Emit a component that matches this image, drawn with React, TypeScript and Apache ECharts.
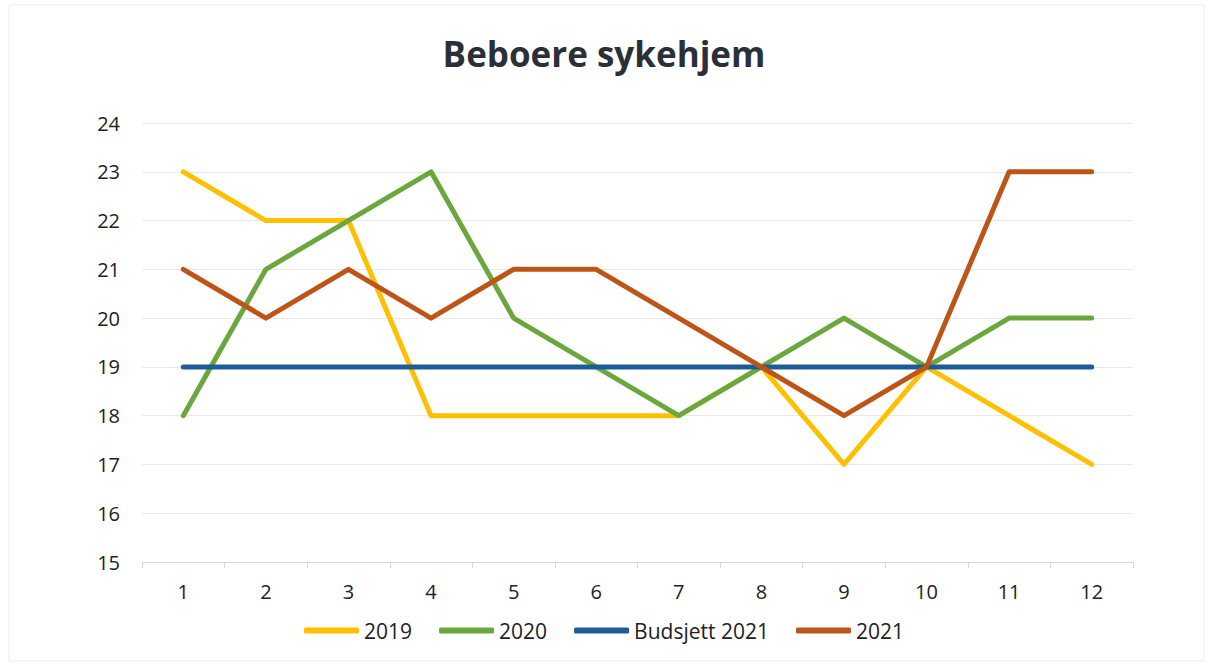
import React, { useEffect, useRef } from "react";
import * as echarts from "echarts";

const months = ["1", "2", "3", "4", "5", "6", "7", "8", "9", "10", "11", "12"];
const s2019 = [23, 22, 22, 18, 18, 18, 18, 19, 17, 19, 18, 17];
const s2020 = [18, 21, 22, 23, 20, 19, 18, 19, 20, 19, 20, 20];
const budsjett2021 = [19, 19, 19, 19, 19, 19, 19, 19, 19, 19, 19, 19];
const s2021 = [21, 20, 21, 20, 21, 21, 20, 19, 18, 19, 23, 23];

const FONT = "'Open Sans', Lato, sans-serif";

export default function App() {
  const ref = useRef<HTMLDivElement>(null);
  useEffect(() => {
    if (!ref.current) return;
    const chart = echarts.init(ref.current, undefined, { renderer: "svg" });
    const line = (name: string, data: number[], color: string) => ({
      name,
      type: "line",
      data,
      showSymbol: false,
      symbol: "none",
      lineStyle: { width: 5, color, cap: "round", join: "round" },
      itemStyle: { color },
    });
    chart.setOption({
      animation: false,
      backgroundColor: "#ffffff",
      textStyle: { fontFamily: FONT },
      title: {
        text: "Beboere sykehjem",
        left: "center",
        top: 31,
        textStyle: { fontFamily: FONT, fontSize: 35, fontWeight: "bold", color: "#2b3038" },
      },
      graphic: [
        {
          type: "rect",
          shape: { x: 9, y: 5, width: 1195, height: 656 },
          style: { fill: "none", stroke: "#ececec", lineWidth: 1 },
          silent: true,
        },
      ],
      legend: {
        bottom: 22,
        left: "center",
        icon: "roundRect",
        itemWidth: 55,
        itemHeight: 6,
        itemGap: 27,
        textStyle: { fontFamily: FONT, fontSize: 21, color: "#222" },
        data: ["2019", "2020", "Budsjett 2021", "2021"],
      },
      grid: { left: 142, right: 75, top: 123, bottom: 106 },
      xAxis: {
        type: "category",
        data: months,
        boundaryGap: true,
        axisLine: { lineStyle: { color: "#d9d9d9", width: 1 } },
        axisTick: { show: true, length: 6, lineStyle: { color: "#d9d9d9" } },
        axisLabel: { fontFamily: FONT, fontSize: 20, color: "#222", margin: 19 },
      },
      yAxis: {
        type: "value",
        min: 15,
        max: 24,
        interval: 1,
        axisLine: { show: false },
        axisTick: { show: false },
        axisLabel: { fontFamily: FONT, fontSize: 20, color: "#222", margin: 22 },
        splitLine: { lineStyle: { color: "#e8e8e8", width: 1 } },
      },
      series: [
        line("2019", s2019, "#FFC000"),
        line("2020", s2020, "#6AA83E"),
        line("Budsjett 2021", budsjett2021, "#1D5C97"),
        line("2021", s2021, "#BE5518"),
      ],
    });
    return () => chart.dispose();
  }, []);
  return (
    <div
      ref={ref}
      style={{ position: "fixed", left: 0, top: 0, width: 1208, height: 668 }}
    />
  );
}
